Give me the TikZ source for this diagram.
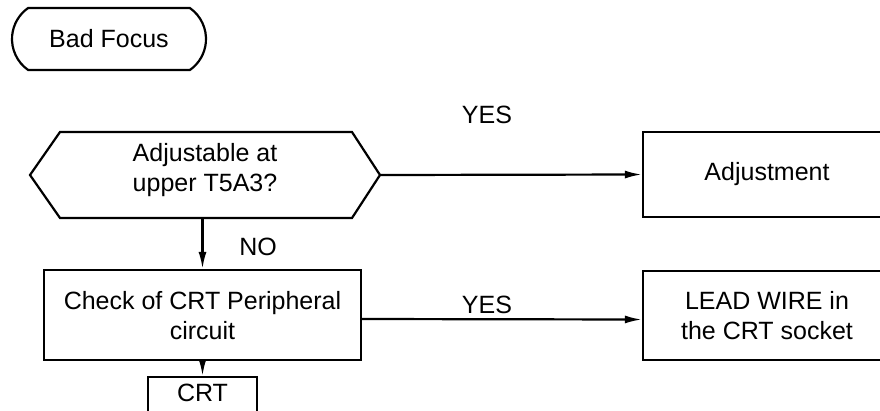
\documentclass[tikz,border=0pt]{standalone}
\usepackage{fontspec}
\setmainfont{Liberation Sans}
\usetikzlibrary{shapes.misc,arrows.meta}
\begin{document}
\begin{tikzpicture}[x=1pt,y=-1pt, line width=2.2pt,
  txt/.style={font=\fontsize{25}{30}\selectfont, align=center, inner sep=0pt},
  box/.style={txt, draw, rectangle},
  term/.style={txt, draw, rounded rectangle, rounded rectangle arc length=110},
  arr/.style={-{Latex[length=17pt,width=8pt]}}]
\useasboundingbox (0,0) rectangle (880,410);
\clip (0,0) rectangle (880,410);
% start
\node[term, minimum width=194, minimum height=62] (start) at (109,39) {Bad Focus};
% decision hexagon
\node[txt] (hex) at (205,170) {Adjustable at\\upper T5A3?};
\coordinate (hexR) at (380,175);
\coordinate (hexB) at (202.5,218);
\draw[line join=miter] (30,175) -- (60,132) -- (352,132) -- (hexR) -- (352,218) -- (60,218) -- cycle;
% boxes
\node[box, minimum width=248, minimum height=85] (adj) at (767,174.5) {Adjustment};
\node[box, minimum width=317, minimum height=90, text depth=-8pt] (check) at (202.5,315) {Check of CRT Peripheral\\circuit};
\node[box, minimum width=248, minimum height=89] (lead) at (767,315.5) {LEAD WIRE in\\the CRT socket};
\node[box, minimum width=109, minimum height=70, anchor=north] (crt) at (202.5,376) {};
\node[txt] (crtt) at (202.5,393) {CRT};
% connectors
\draw[arr] (hexR) -- (adj.west);
\draw[arr] (hexB) -- (check.north);
\draw[arr] ([yshift=-4pt]check.east) -- ([yshift=-4pt]lead.west);
\draw[arr] (check.south) -- (crt.north);
% labels
\node[txt] (yes1) at (487,115) {YES};
\node[txt] (no) at (258,247) {NO};
\node[txt] (yes2) at (487,305) {YES};
\end{tikzpicture}
\end{document}
